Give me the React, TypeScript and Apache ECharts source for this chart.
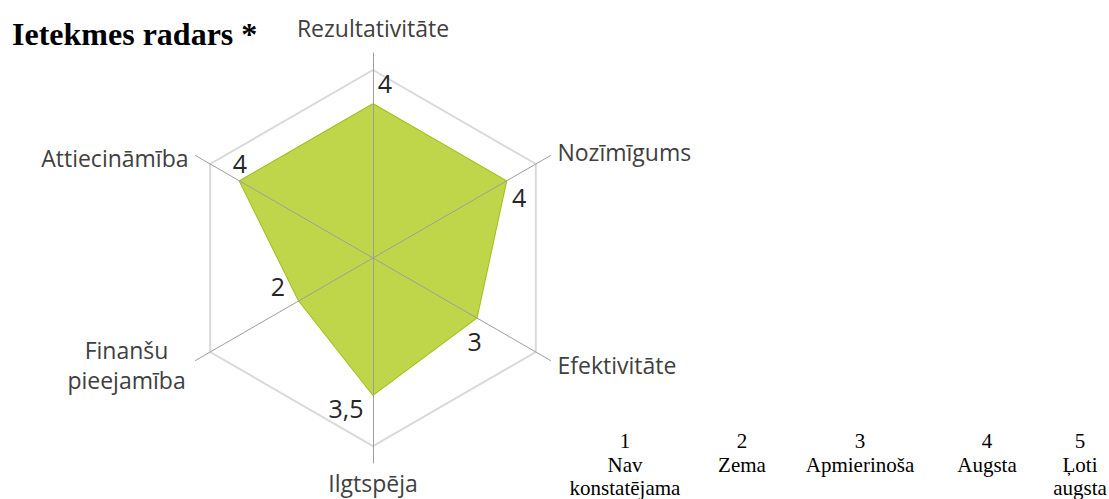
import React, { useEffect, useRef } from 'react';
import * as echarts from 'echarts';

// Indicators in ECharts order (start at top, counter-clockwise)
const categories = ['Rezultativitāte', 'Attiecināmība', 'Finanšu pieejamība', 'Ilgtspēja', 'Efektivitāte', 'Nozīmīgums'];
const values = [4, 4, 2, 3.5, 3, 4];
const axisMin = -0.5;
const axisMax = 5;

const titleText = 'Ietekmes radars *';
const scaleValues = ['1', '2', '3', '4', '5'];
const scaleLabels = ['Nav konstatējama', 'Zema', 'Apmierinoša', 'Augsta', 'Ļoti augsta'];

// styling / layout
const CENTER: [number, number] = [373, 258];
const labelOffsets: [number, number][] = [[12, -21], [0, -18], [-21, -15], [-27, 13], [-2, 23], [13, 16]];
const scaleX = [625, 742, 860, 987, 1080];
const NAME_FONT = 'Open Sans';
const NAME_SIZE = 23;
const NAME_COLOR = '#404040';
const nameStyleKey = ['t', 'l', 'c', 'n', 'n', 'n'];

export default function App() {
  const ref = useRef<HTMLDivElement>(null);
  useEffect(() => {
    document.body.style.margin = '0';
    if (!ref.current) return;
    const chart = echarts.init(ref.current, undefined, { renderer: 'svg' });

    const labelSeries = values.map((_, k) => ({
      type: 'radar',
      radarIndex: 0,
      symbol: 'circle',
      symbolSize: 0,
      silent: true,
      z: 5,
      lineStyle: { opacity: 0, width: 0 },
      data: [{ value: values.map((v, i) => (i === k ? v : '-')) }],
      label: {
        show: true,
        opacity: 1,
        position: 'inside',
        offset: labelOffsets[k],
        fontSize: 25,
        fontFamily: NAME_FONT,
        color: '#262626',
        formatter: (p: any) => {
          const v = Number(p.value);
          return Number.isFinite(v) ? String(v).replace('.', ',') : '';
        },
      },
    }));

    const font21 = '21px "Liberation Serif"';
    const graphics: any[] = [
      {
        type: 'text',
        left: 12,
        top: 18,
        style: { text: titleText, font: 'bold 32px "Liberation Serif"', fill: '#000' },
      },
    ];
    scaleValues.forEach((s, i) => {
      graphics.push({
        type: 'text',
        style: { text: s, x: scaleX[i], y: 441, align: 'center', verticalAlign: 'middle', font: font21, fill: '#000' },
      });
      const lines = scaleLabels[i].split(' ');
      graphics.push({
        type: 'text',
        style: {
          text: lines.join('\n'),
          x: scaleX[i],
          y: 465 + (lines.length - 1) * 11.5,
          align: 'center',
          verticalAlign: 'middle',
          font: font21,
          lineHeight: 23,
          fill: '#000',
        },
      });
    });

    const richBase = { fontSize: NAME_SIZE, fontFamily: NAME_FONT, color: NAME_COLOR };

    chart.setOption({
      animation: false,
      radar: [
        {
          center: CENTER,
          radius: 188,
          startAngle: 90,
          splitNumber: 1,
          shape: 'polygon',
          indicator: categories.map((n) => ({ name: n, min: axisMin, max: axisMax })),
          axisName: { show: false },
          axisLine: { show: false },
          axisTick: { show: false },
          axisLabel: { show: false },
          splitLine: { lineStyle: { color: '#d9d9d9', width: 2 } },
          splitArea: { show: false },
        },
        {
          center: CENTER,
          radius: 205,
          startAngle: 90,
          splitNumber: 1,
          shape: 'polygon',
          z: 3,
          nameGap: 8,
          indicator: categories.map((n) => ({ name: n, min: 0, max: 1 })),
          axisName: {
            color: NAME_COLOR,
            fontSize: NAME_SIZE,
            fontFamily: NAME_FONT,
            formatter: (name: string) => {
              const key = nameStyleKey[categories.indexOf(name)] || 'n';
              return name
                .split(' ')
                .map((w) => `{${key}|${w}}`)
                .join('\n');
            },
            rich: {
              n: { ...richBase },
              t: { ...richBase, padding: [0, 0, 6, 0] },
              l: { ...richBase, padding: [12, 0, 0, 0] },
              c: { ...richBase, width: 124, align: 'center', lineHeight: 30 },
            },
          },
          axisLine: { lineStyle: { color: '#9e9e9e', width: 1 } },
          axisTick: { show: false },
          axisLabel: { show: false },
          splitLine: { show: false },
          splitArea: { show: false },
        },
      ],
      series: [
        {
          type: 'radar',
          radarIndex: 0,
          z: 2,
          symbol: 'none',
          silent: true,
          lineStyle: { color: '#9dc01e', width: 2 },
          areaStyle: { color: '#bfd64b', opacity: 1 },
          data: [{ value: values }],
        },
        ...labelSeries,
      ],
      graphic: graphics,
    });
    return () => chart.dispose();
  }, []);
  return <div ref={ref} style={{ width: 1109, height: 499 }} />;
}
